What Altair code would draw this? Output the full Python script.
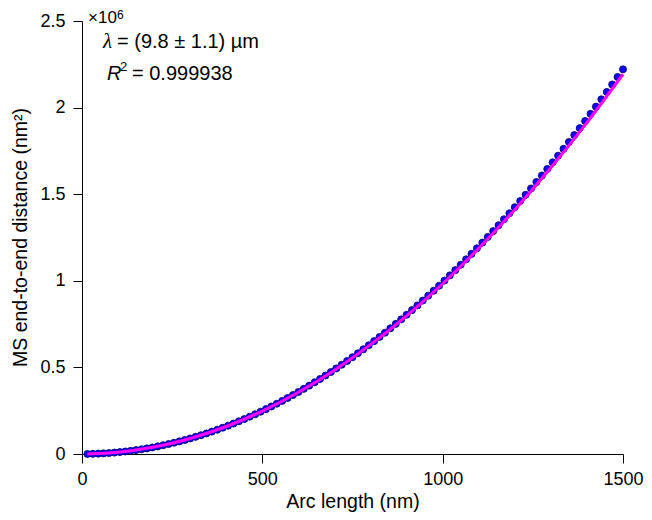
import altair as alt
import pandas as pd

# ---- data ----
arc_length = [15, 30, 45, 60, 75, 90, 105, 120, 135, 150,
              165, 180, 195, 210, 225, 240, 255, 270, 285, 300,
              315, 330, 345, 360, 375, 390, 405, 420, 435, 450,
              465, 480, 495, 510, 525, 540, 555, 570, 585, 600,
              615, 630, 645, 660, 675, 690, 705, 720, 735, 750,
              765, 780, 795, 810, 825, 840, 855, 870, 885, 900,
              915, 930, 945, 960, 975, 990, 1005, 1020, 1035, 1050,
              1065, 1080, 1095, 1110, 1125, 1140, 1155, 1170, 1185, 1200,
              1215, 1230, 1245, 1260, 1275, 1290, 1305, 1320, 1335, 1350,
              1365, 1380, 1395, 1410, 1425, 1440, 1455, 1470, 1485, 1500]

ms_distance = [0.0002, 0.0009, 0.0020, 0.0036, 0.0056, 0.0081, 0.0110, 0.0144, 0.0182, 0.0225,
               0.0272, 0.0324, 0.0380, 0.0440, 0.0505, 0.0575, 0.0649, 0.0727, 0.0810, 0.0898,
               0.0990, 0.1086, 0.1187, 0.1292, 0.1402, 0.1516, 0.1635, 0.1758, 0.1885, 0.2017,
               0.2154, 0.2294, 0.2440, 0.2590, 0.2744, 0.2902, 0.3065, 0.3233, 0.3405, 0.3581,
               0.3762, 0.3947, 0.4137, 0.4331, 0.4530, 0.4732, 0.4940, 0.5152, 0.5368, 0.5588,
               0.5814, 0.6043, 0.6277, 0.6515, 0.6758, 0.7004, 0.7256, 0.7512, 0.7772, 0.8037,
               0.8306, 0.8579, 0.8857, 0.9140, 0.9426, 0.9717, 1.0012, 1.0312, 1.0616, 1.0925,
               1.1238, 1.1554, 1.1876, 1.2203, 1.2533, 1.2867, 1.3207, 1.3551, 1.3898, 1.4250,
               1.4607, 1.4967, 1.5333, 1.5703, 1.6077, 1.6455, 1.6838, 1.7225, 1.7616, 1.8012,
               1.8412, 1.8815, 1.9225, 1.9638, 2.0056, 2.0477, 2.0904, 2.1335, 2.1768, 2.2208]

fit_length = [15, 100, 200, 300, 400, 500, 600, 700, 800, 900, 1000, 1100, 1200, 1300, 1400, 1500]
fit_distance = [0.0002, 0.0100, 0.0399, 0.0895, 0.1589, 0.2479, 0.3563, 0.4842, 0.6313, 0.7976,
                0.9830, 1.1874, 1.4106, 1.6527, 1.9134, 2.1926]

x_ticks = [0, 500, 1000, 1500]
y_ticks = [0, 0.5, 1, 1.5, 2, 2.5]

x_title = "Arc length (nm)"
y_title = "MS end-to-end distance (nm²)"
exp_base = "×10"
exp_power = "6"
lambda_sym = "λ"
lambda_text = "= (9.8 ± 1.1) µm"
r_sym = "R"
r_power = "2"
r_text = "= 0.999938"

FONT = "Liberation Sans"

pts = pd.DataFrame({"arc": arc_length, "msd": ms_distance})
fit = pd.DataFrame({"arc": fit_length, "msd": fit_distance})

xscale = alt.Scale(domain=[0, 1500], nice=False, zero=False)
yscale = alt.Scale(domain=[0, 2.5], nice=False, zero=False)

xaxis = alt.Axis(values=x_ticks, format="d", title=x_title, grid=False,
                 domainColor="black", tickColor="black", tickSize=9, labelPadding=7,
                 labelFontSize=18, labelFont=FONT, labelColor="black",
                 titleFontSize=19.5, titleFont=FONT, titleFontWeight="normal", titleColor="black",
                 titleBaseline="alphabetic", titleY=53, labelFlush=False)
yaxis = alt.Axis(values=y_ticks, format="~g", title=y_title, grid=False,
                 domainColor="black", tickColor="black", tickSize=9, labelPadding=8,
                 labelFontSize=18, labelFont=FONT, labelColor="black",
                 titleFontSize=19.5, titleFont=FONT, titleFontWeight="normal", titleColor="black",
                 titleBaseline="alphabetic", titleX=-56, titleY=216, titleAngle=-90,
                 labelFlush=False)

points = alt.Chart(pts).mark_circle(size=50, color="#0a0aee", stroke="#00006e",
                                    strokeWidth=0.8, opacity=1).encode(
    x=alt.X("arc:Q", scale=xscale, axis=xaxis),
    y=alt.Y("msd:Q", scale=yscale, axis=yaxis),
)

line = alt.Chart(fit).mark_line(color="#ff00ff", strokeWidth=3, interpolate="monotone").encode(
    x=alt.X("arc:Q", scale=xscale),
    y=alt.Y("msd:Q", scale=yscale),
)


def label(txt, x, y, size=20, font=FONT, style="normal"):
    return alt.Chart(pd.DataFrame({"t": [txt]})).mark_text(
        align="left", baseline="alphabetic", fontSize=size, font=font,
        fontStyle=style, color="black").encode(
        text="t:N", x=alt.value(x), y=alt.value(y))


annots = [
    label(exp_base, 6, 2, size=17),
    label(exp_power, 35, -2, size=12),
    label(lambda_sym, 21, 27, size=21, font="Liberation Serif", style="italic"),
    label(lambda_text, 35, 27, size=20),
    label(r_sym, 25, 59, size=20, style="italic"),
    label(r_power, 38, 50, size=13),
    label(r_text, 50, 59, size=20),
]

chart = alt.layer(points, line, *annots).properties(
    width=541, height=433,
    autosize=alt.AutoSizeParams(type="none"),
    padding={"left": 74, "top": 13, "right": 21, "bottom": 58},
).configure_view(stroke=None)

chart.save("out.html", embed_options={"renderer": "svg", "actions": False})
